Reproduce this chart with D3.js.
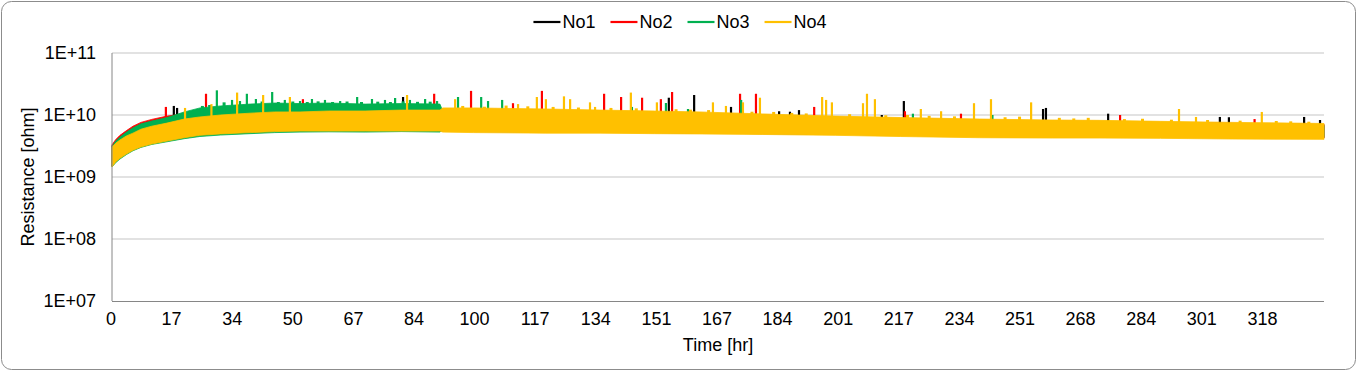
<!DOCTYPE html>
<html>
<head>
<meta charset="utf-8">
<script src="https://cdn.jsdelivr.net/npm/d3@7"></script>
<style>
  html, body { margin: 0; padding: 0; background: #fff; }
  svg { display: block; font-family: "Liberation Sans", Arial, sans-serif; }
</style>
</head>
<body>
<svg id="chart" width="1357" height="391"></svg>
<script>
const width = 1357;
const height = 391;

// time samples (hr) for the envelope of each noisy trace
const hours = [0, 1, 2.2, 4, 5.8, 8, 11, 15.2, 20, 24.3, 30, 38.2, 45, 52, 60, 70, 80, 90.7,
  91.5, 100, 120, 135, 150, 162.6, 180, 200, 218, 240, 260, 273, 290, 310, 335.2];

// lower / upper edge of each band, ohm
const no1Low = [1.5e9, 1.8e9, 2.05e9, 2.45e9, 2.8e9, 3.15e9, 3.55e9, 3.95e9, 4.45e9, 4.85e9, 5.1e9, 5.35e9, 5.5e9, 5.6e9, 5.6e9, 5.6e9, 5.6e9, 5.6e9,
  5.5e9, 5.4e9, 5.3e9, 5.3e9, 5.2e9, 5.1e9, 5.0e9, 4.9e9, 4.7e9, 4.5e9, 4.4e9, 4.4e9, 4.35e9, 4.3e9, 4.25e9];
const no1High = [3.2e9, 3.7e9, 4.3e9, 5.2e9, 6.1e9, 7.0e9, 7.8e9, 8.9e9, 1.0e10, 1.05e10, 1.1e10, 1.15e10, 1.15e10, 1.15e10, 1.15e10, 1.15e10, 1.15e10, 1.15e10,
  1.22e10, 1.22e10, 1.18e10, 1.13e10, 1.09e10, 1.05e10, 9.9e9, 9.1e9, 8.7e9, 8.2e9, 7.9e9, 7.8e9, 7.5e9, 7.3e9, 7.0e9];

const no2Low = [1.5e9, 1.85e9, 2.1e9, 2.5e9, 2.85e9, 3.2e9, 3.6e9, 4.0e9, 4.5e9, 4.9e9, 5.2e9, 5.4e9, 5.6e9, 5.7e9, 5.7e9, 5.7e9, 5.7e9, 5.7e9,
  5.6e9, 5.5e9, 5.4e9, 5.4e9, 5.3e9, 5.2e9, 5.1e9, 5.0e9, 4.8e9, 4.6e9, 4.5e9, 4.5e9, 4.45e9, 4.35e9, 4.3e9];
const no2High = [3.3e9, 4.0e9, 4.7e9, 5.6e9, 6.6e9, 7.6e9, 8.5e9, 9.6e9, 1.05e10, 1.1e10, 1.15e10, 1.2e10, 1.2e10, 1.2e10, 1.2e10, 1.2e10, 1.2e10, 1.2e10,
  1.25e10, 1.25e10, 1.2e10, 1.15e10, 1.1e10, 1.07e10, 1.0e10, 9.2e9, 8.8e9, 8.3e9, 8.0e9, 7.9e9, 7.6e9, 7.35e9, 7.05e9];

const no3Low = [1.45e9, 1.7e9, 1.95e9, 2.3e9, 2.65e9, 3.0e9, 3.35e9, 3.7e9, 4.15e9, 4.5e9, 4.75e9, 5.0e9, 5.2e9, 5.3e9, 5.35e9, 5.3e9, 5.4e9, 5.3e9,
  5.8e9, 5.7e9, 5.6e9, 5.6e9, 5.5e9, 5.4e9, 5.3e9, 5.2e9, 5.0e9, 4.8e9, 4.7e9, 4.7e9, 4.6e9, 4.5e9, 4.45e9];
const no3High = [3.1e9, 3.8e9, 4.4e9, 5.3e9, 6.2e9, 7.2e9, 8.0e9, 9.1e9, 1.12e10, 1.3e10, 1.4e10, 1.5e10, 1.56e10, 1.53e10, 1.56e10, 1.5e10, 1.53e10, 1.5e10,
  1.15e10, 1.15e10, 1.12e10, 1.08e10, 1.04e10, 1.0e10, 9.4e9, 8.8e9, 8.4e9, 7.9e9, 7.6e9, 7.5e9, 7.2e9, 7.0e9, 6.7e9];

const no4Low = [1.45e9, 1.75e9, 2.0e9, 2.35e9, 2.7e9, 3.05e9, 3.4e9, 3.8e9, 4.3e9, 4.7e9, 4.95e9, 5.2e9, 5.4e9, 5.5e9, 5.5e9, 5.5e9, 5.5e9, 5.5e9,
  5.3e9, 5.2e9, 5.1e9, 5.1e9, 5.0e9, 4.95e9, 4.85e9, 4.7e9, 4.5e9, 4.3e9, 4.25e9, 4.25e9, 4.2e9, 4.1e9, 4.05e9];
const no4High = [3.05e9, 3.5e9, 3.95e9, 4.6e9, 5.1e9, 5.9e9, 6.6e9, 7.4e9, 8.6e9, 9.3e9, 1.0e10, 1.07e10, 1.12e10, 1.12e10, 1.16e10, 1.16e10, 1.2e10, 1.2e10,
  1.3e10, 1.3e10, 1.25e10, 1.2e10, 1.16e10, 1.12e10, 1.04e10, 9.6e9, 9.1e9, 8.6e9, 8.3e9, 8.2e9, 7.9e9, 7.6e9, 7.3e9];

// isolated peaks [hr, ohm]
const no1Spikes = [[17.1, 1.4e10], [18.0, 1.3e10], [80.5, 1.95e10], [154.0, 1.9e10], [161.0, 2.1e10], [171.2, 1.35e10],
  [184.5, 1.15e10], [187.5, 1.13e10], [190.0, 1.2e10], [212.9, 1.0e10], [219.0, 1.68e10], [257.5, 1.25e10], [258.3, 1.3e10],
  [275.5, 1.05e10], [306.4, 9.3e9], [308.9, 9.2e9], [329.7, 9.3e9], [334.1, 8.3e9]];
const no2Spikes = [[14.9, 1.35e10], [26.0, 2.2e10], [52.8, 1.8e10], [89.1, 2.2e10], [99.3, 2.45e10], [110.9, 1.55e10],
  [118.9, 2.45e10], [136.1, 2.2e10], [140.8, 1.95e10], [146.6, 1.9e10], [151.8, 1.8e10], [154.9, 2.35e10], [173.7, 2.2e10],
  [178.1, 2.2e10], [194.2, 1.35e10], [219.3, 1.15e10], [234.8, 1.05e10], [278.8, 1.0e10], [316.0, 8.6e9]];
const no3Spikes = [[29.0, 2.5e10], [33.2, 1.75e10], [35.4, 1.68e10], [37.3, 2.2e10], [39.8, 1.81e10], [44.3, 2.35e10],
  [47.8, 1.75e10], [52.0, 1.68e10], [55.3, 1.81e10], [58.9, 1.75e10], [63.1, 1.68e10], [67.8, 1.95e10], [71.9, 1.81e10],
  [75.5, 1.75e10], [78.3, 1.88e10], [82.4, 1.75e10], [86.6, 1.81e10], [89.9, 1.68e10], [95.7, 1.95e10], [102.1, 1.95e10],
  [104.0, 1.68e10], [107.9, 1.75e10], [143.8, 1.35e10], [153.2, 1.56e10], [159.3, 1.25e10], [174.0, 1.75e10],
  [221.5, 1.05e10], [243.5, 1.0e10]];
const no4Spikes = [[20.2, 1.3e10], [27.5, 1.5e10], [34.6, 2.3e10], [41.8, 2.1e10], [49.2, 1.95e10], [81.6, 2.1e10],
  [94.9, 1.8e10], [112.3, 1.5e10], [117.5, 1.95e10], [120.0, 1.8e10], [125.0, 2.0e10], [126.7, 1.8e10], [132.2, 1.6e10],
  [133.6, 1.35e10], [143.5, 2.3e10], [150.7, 1.6e10], [166.2, 1.6e10], [169.8, 1.4e10], [174.5, 1.6e10], [179.2, 1.9e10],
  [196.4, 1.95e10], [197.5, 1.75e10], [199.1, 1.6e10], [207.7, 1.55e10], [208.8, 2.2e10], [211.0, 1.8e10], [223.7, 1.25e10],
  [229.3, 1.15e10], [238.4, 1.55e10], [243.1, 1.8e10], [254.2, 1.6e10], [295.1, 1.25e10], [299.8, 9.3e9], [318.0, 1.12e10]];

// small ragged teeth along the upper edge [hr, ohm]
const no3Teeth = [[25.0, 1.4e10], [27.0, 1.45e10], [31.0, 1.6e10], [41.5, 1.65e10], [46.0, 1.62e10], [50.0, 1.65e10],
  [54.0, 1.62e10], [57.0, 1.66e10], [61.0, 1.62e10], [65.0, 1.65e10], [69.0, 1.62e10], [73.5, 1.64e10], [77.0, 1.62e10],
  [80.5, 1.66e10], [84.5, 1.63e10], [88.0, 1.64e10]];
const no4Teeth = [[97, 1.4e10], [103, 1.36e10], [109, 1.42e10], [115, 1.38e10], [122, 1.35e10], [129, 1.32e10],
  [138, 1.3e10], [145, 1.28e10], [156, 1.24e10], [160, 1.22e10], [165, 1.2e10], [177, 1.13e10], [183, 1.12e10],
  [188, 1.08e10], [192, 1.06e10], [204, 1.03e10], [214, 9.9e9], [220, 1.0e10], [226, 9.7e9], [233, 9.5e9], [247, 9.2e9],
  [251, 9.4e9], [262, 9.0e9], [266, 8.8e9], [270, 9.0e9], [280, 8.6e9], [285, 8.7e9], [293, 8.4e9], [303, 8.3e9],
  [312, 8.1e9], [322, 8.0e9], [326, 7.9e9], [331, 7.8e9]];

const seriesNames = ["No1", "No2", "No3", "No4"];
const seriesColors = ["#000000", "#ff0000", "#00b050", "#ffc000"];

const xTickLabels = ["0", "17", "34", "50", "67", "84", "100", "117", "134", "151", "167", "184", "201", "217",
  "234", "251", "268", "284", "301", "318"];
const tickStep = 16.76;
const timeMax = 335.2;
const yTicks = [1e7, 1e8, 1e9, 1e10, 1e11];
const spikeBase = 6e9;

const margin = {top: 53, right: 33, bottom: 90, left: 112};

const series = [
  {low: no1Low, high: no1High, spikes: no1Spikes, teeth: []},
  {low: no2Low, high: no2High, spikes: no2Spikes, teeth: []},
  {low: no3Low, high: no3High, spikes: no3Spikes, teeth: no3Teeth},
  {low: no4Low, high: no4High, spikes: no4Spikes, teeth: no4Teeth}
].map((s, i) => ({...s, name: seriesNames[i], color: seriesColors[i]}));

const svg = d3.select("#chart");

svg.append("rect")
    .attr("x", 1.5).attr("y", 1.5)
    .attr("width", width - 3).attr("height", 368)
    .attr("rx", 10)
    .attr("fill", "#fff")
    .attr("stroke", "#8c8c8c");

const x = d3.scaleLinear()
    .domain([0, timeMax])
    .range([margin.left, width - margin.right]);

const y = d3.scaleLog()
    .domain([1e7, 1e11])
    .range([301, margin.top]);

const fmtE = v => "1E+" + String(Math.round(Math.log10(v))).padStart(2, "0");

// grid
svg.append("g")
  .selectAll("line")
  .data(yTicks.slice(1))
  .join("line")
    .attr("x1", x(0)).attr("x2", x(timeMax))
    .attr("y1", d => y(d)).attr("y2", d => y(d))
    .attr("stroke", "#d9d9d9")
    .attr("stroke-width", 1.5);

// y labels
svg.append("g")
  .selectAll("text")
  .data(yTicks)
  .join("text")
    .attr("x", 96)
    .attr("y", d => y(d))
    .attr("dy", "0.35em")
    .attr("text-anchor", "end")
    .attr("font-size", 18)
    .attr("fill", "#000")
    .text(fmtE);

// x labels
svg.append("g")
  .selectAll("text")
  .data(xTickLabels)
  .join("text")
    .attr("x", (d, i) => x(i * tickStep) - 1)
    .attr("y", 325)
    .attr("text-anchor", "middle")
    .attr("font-size", 18)
    .attr("fill", "#000")
    .text(d => d);

// bands and peaks
const area = d3.area()
    .x((d, i) => x(hours[i]))
    .y0(d => y(d[0]))
    .y1(d => y(d[1]));

const plot = svg.append("g");
series.forEach(s => {
  const g = plot.append("g");
  g.append("path")
      .datum(s.low.map((v, i) => [v, s.high[i]]))
      .attr("fill", s.color)
      .attr("stroke", s.color)
      .attr("stroke-width", 0.8)
      .attr("d", area);
  g.selectAll("line.tooth")
    .data(s.teeth)
    .join("line")
      .attr("class", "tooth")
      .attr("x1", d => x(d[0])).attr("x2", d => x(d[0]))
      .attr("y1", y(spikeBase)).attr("y2", d => y(d[1]))
      .attr("stroke", s.color)
      .attr("stroke-width", 3);
  g.selectAll("line.spike")
    .data(s.spikes)
    .join("line")
      .attr("class", "spike")
      .attr("x1", d => x(d[0])).attr("x2", d => x(d[0]))
      .attr("y1", y(spikeBase)).attr("y2", d => y(d[1]))
      .attr("stroke", s.color)
      .attr("stroke-width", 2.2);
});

// axes lines
svg.append("line")
    .attr("x1", x(0)).attr("x2", x(0))
    .attr("y1", y(1e11)).attr("y2", y(1e7))
    .attr("stroke", "#868686");
svg.append("line")
    .attr("x1", x(0)).attr("x2", x(timeMax))
    .attr("y1", y(1e7) + 0.5).attr("y2", y(1e7) + 0.5)
    .attr("stroke", "#868686");

// axis titles
svg.append("text")
    .attr("x", (x(0) + x(timeMax)) / 2)
    .attr("y", 351)
    .attr("text-anchor", "middle")
    .attr("font-size", 18)
    .text("Time [hr]");

svg.append("text")
    .attr("transform", `translate(34,${(y(1e7) + y(1e11)) / 2}) rotate(-90)`)
    .attr("text-anchor", "middle")
    .attr("font-size", 18)
    .text("Resistance [ohm]");

// legend
const legend = svg.append("g");
const items = legend.selectAll("g")
  .data(series)
  .join("g");
items.append("line")
    .attr("x1", 0).attr("x2", 27)
    .attr("y1", 22).attr("y2", 22)
    .attr("stroke", d => d.color)
    .attr("stroke-width", 2.2);
items.append("text")
    .attr("x", 29)
    .attr("y", 28)
    .attr("font-size", 18)
    .text(d => d.name);

let cursor = 0;
items.each(function() {
  const w = d3.select(this).select("text").node().getComputedTextLength();
  d3.select(this).attr("transform", `translate(${cursor},0)`);
  cursor += 29 + w + 15;
});
const legendWidth = cursor - 15;
legend.attr("transform", `translate(${680 - legendWidth / 2},0)`);
</script>
</body>
</html>
